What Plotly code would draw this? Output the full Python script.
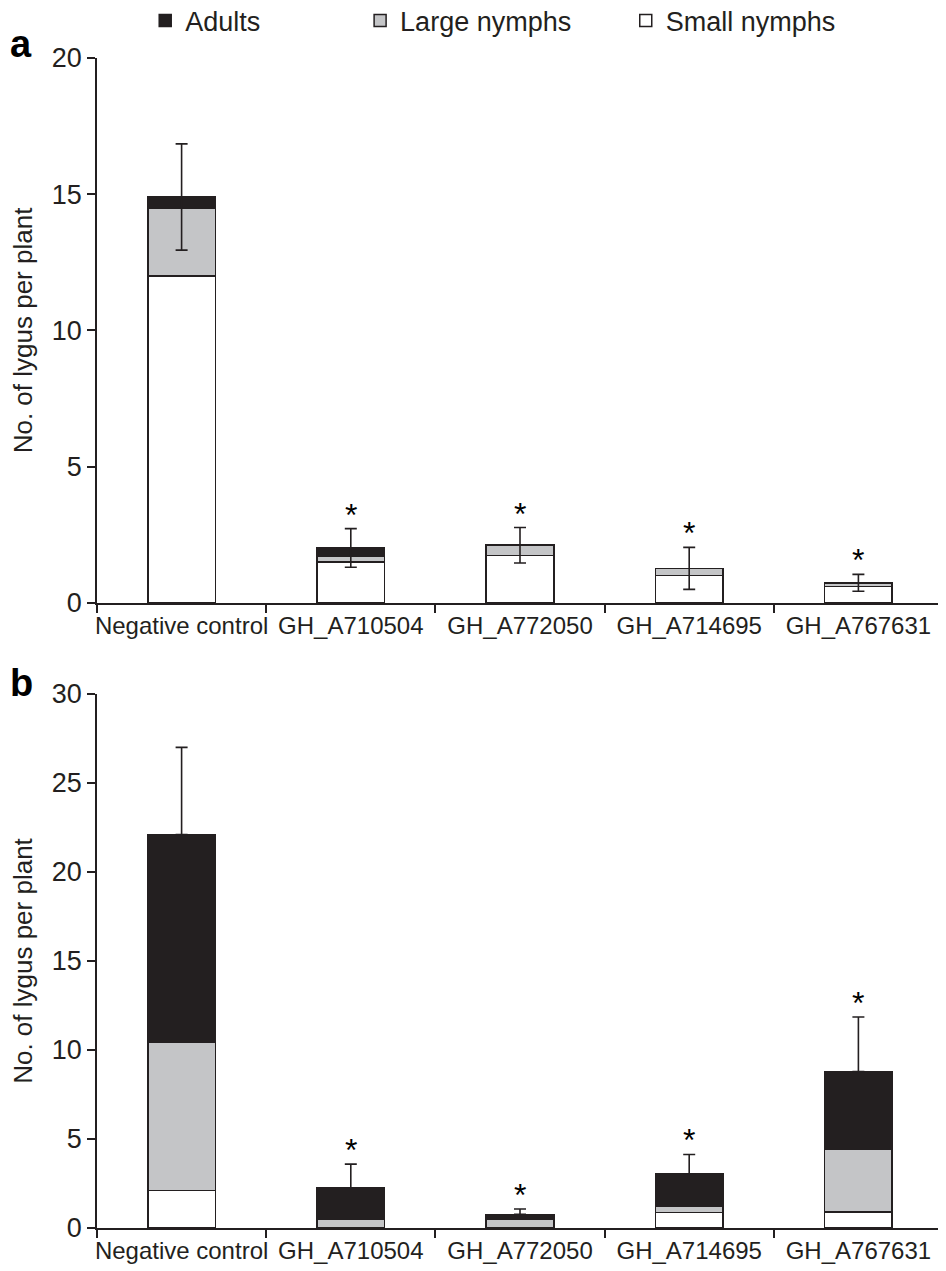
import plotly.graph_objects as go
from plotly.subplots import make_subplots

categories = ['Negative control', 'GH_A710504', 'GH_A772050', 'GH_A714695', 'GH_A767631']

# panel a
a_small = [12.0, 1.50, 1.75, 1.00, 0.60]
a_large = [2.50, 0.22, 0.37, 0.27, 0.14]
a_adults = [0.40, 0.30, 0.0, 0.0, 0.0]
a_err = [1.95, 0.71, 0.65, 0.77, 0.31]
a_star = [False, True, True, True, True]

# panel b
b_small = [2.10, 0.0, 0.0, 0.86, 0.90]
b_large = [8.35, 0.49, 0.50, 0.34, 3.55]
b_adults = [11.65, 1.77, 0.27, 1.83, 4.34]
b_err = [4.90, 1.33, 0.30, 1.10, 3.06]
b_star = [False, True, True, True, True]

COL_ADULT = '#231f20'
COL_LARGE = '#c4c5c7'
COL_SMALL = '#ffffff'
LINE = '#231f20'
FONT = 'Liberation Sans, Arial, sans-serif'

fig = make_subplots(rows=2, cols=1, vertical_spacing=0.0)

panels = [
    (1, a_small, a_large, a_adults, a_err, a_star, True),
    (2, b_small, b_large, b_adults, b_err, b_star, False),
]
stars = []
for row, small, large, adults, err, star, symmetric in panels:
    show = row == 1
    # stack order bottom -> top: small, large, adults; each in its own legend box
    for name, vals, col, leg in [('Small nymphs', small, COL_SMALL, 'legend3'),
                                 ('Large nymphs', large, COL_LARGE, 'legend2'),
                                 ('Adults', adults, COL_ADULT, 'legend')]:
        fig.add_trace(go.Bar(x=categories, y=vals, name=name, marker_color=col,
                             marker_line=dict(color=LINE, width=1.5), width=0.4,
                             showlegend=show, legend=leg), row=row, col=1)
    totals = [s + l + a for s, l, a in zip(small, large, adults)]
    fig.add_trace(go.Scatter(
        x=categories, y=totals, mode='markers', marker=dict(opacity=0, size=1),
        showlegend=False, hoverinfo='skip',
        error_y=dict(type='data', array=err, arrayminus=err if symmetric else [0] * len(err),
                     symmetric=False, color=LINE, thickness=1.6, width=6)),
        row=row, col=1)
    yref = 'y' if row == 1 else 'y2'
    xref = 'x' if row == 1 else 'x2'
    for c, t, e, s in zip(categories, totals, err, star):
        if s:
            stars.append(dict(x=c, y=t + e, xref=xref, yref=yref, text='*', showarrow=False,
                              yanchor='bottom', yshift=-6, font=dict(size=32, color='black')))

leg_common = dict(orientation='h', y=1.0316, xanchor='left', yanchor='middle',
                  font=dict(size=27), bgcolor='rgba(0,0,0,0)')

fig.update_layout(
    barmode='stack',
    width=938, height=1263,
    margin=dict(l=89, r=3, t=50, b=43, autoexpand=False),
    paper_bgcolor='white', plot_bgcolor='white',
    font=dict(family=FONT, size=24, color='#231f20'),
    legend=dict(x=0.057, **leg_common),
    legend2=dict(x=0.311, **leg_common),
    legend3=dict(x=0.625, **leg_common),
    annotations=stars + [
        dict(text='<b>a</b>', x=-0.0898, y=1.012, xref='paper', yref='paper', showarrow=False,
             font=dict(family=FONT, size=38, color='black'), xanchor='center', yanchor='middle'),
        dict(text='<b>b</b>', x=-0.0898, y=0.4658, xref='paper', yref='paper', showarrow=False,
             font=dict(family=FONT, size=38, color='black'), xanchor='center', yanchor='middle'),
    ],
)

fig.update_xaxes(type='category', showline=True, linecolor=LINE, linewidth=1.5,
                 ticks='outside', tickson='boundaries', ticklen=8, tickwidth=1.5, tickcolor=LINE,
                 showgrid=False, zeroline=False, range=[-0.5, 4.5], tickangle=0,
                 tickfont=dict(size=24))
fig.update_yaxes(showline=True, linecolor=LINE, linewidth=1.5, ticks='outside', ticklen=8,
                 tickwidth=1.5, tickcolor=LINE, showgrid=False, zeroline=False,
                 title_text='No. of lygus per plant', title_font=dict(size=26),
                 title_standoff=12, tickfont=dict(size=27))
fig.update_yaxes(range=[0, 20], dtick=5, domain=[0.5342, 1.0], row=1, col=1)
fig.update_yaxes(range=[0, 30], dtick=5, domain=[0.0, 0.4564], row=2, col=1)
fig.update_xaxes(domain=[0, 1])

fig.write_html("out.html")
